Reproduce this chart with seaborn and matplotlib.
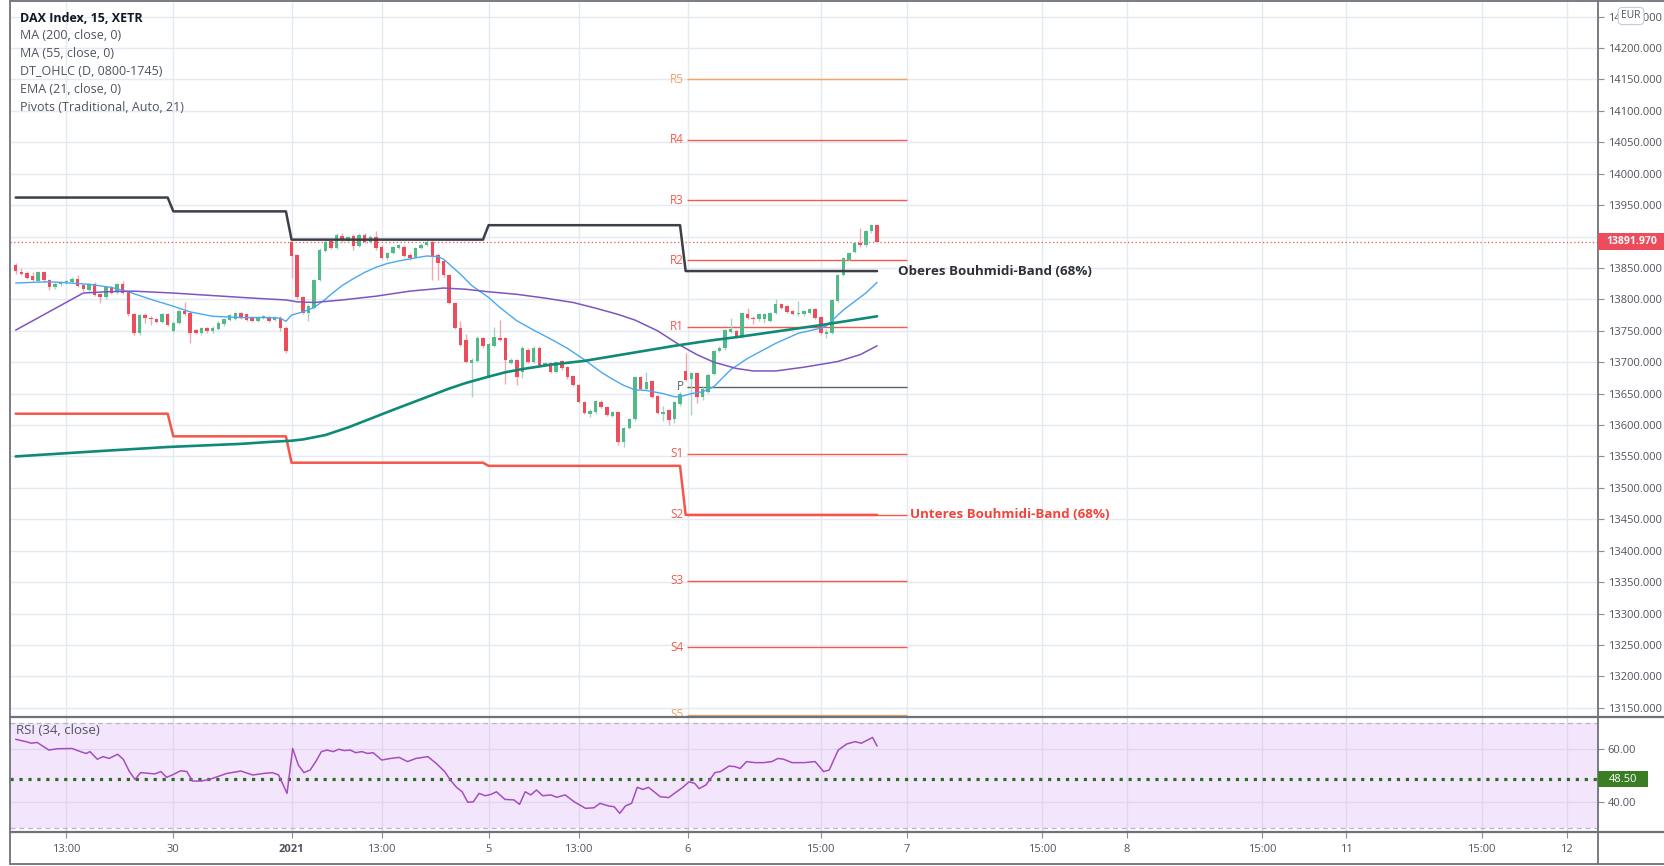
import numpy as np
import pandas as pd
import matplotlib
matplotlib.use("Agg")
import matplotlib.pyplot as plt
import seaborn as sns
from matplotlib.lines import Line2D
from matplotlib.patches import Rectangle

# ---------------- data (15-minute bars, index 0 = first visible bar) ----------------
opens = [13855,13844,13842,13837,13829,13843,13831,13819,13825,13827,
         13828,13833,13823,13815,13824,13808,13803,13819,13811,13824,
         13811,13776,13746,13775,13771,13768,13764,13777,13750,13763,
         13782,13779,13751,13747,13754,13749,13753,13760,13767,13769,
         13778,13776,13771,13766,13770,13771,13767,13771,13755,13892,
         13870,13804,13779,13787,13831,13877,13893,13882,13901,13893,
         13901,13885,13902,13891,13900,13884,13865,13874,13882,13884,
         13871,13868,13882,13887,13892,13871,13861,13838,13794,13755,
         13735,13698,13702,13738,13678,13726,13739,13738,13699,13703,
         13685,13720,13701,13723,13696,13698,13685,13702,13692,13678,
         13664,13637,13617,13620,13637,13628,13614,13621,13573,13595,
         13609,13676,13658,13670,13646,13618,13624,13609,13633,13686,
         13674,13682,13644,13653,13681,13718,13722,13748,13749,13741,
         13777,13771,13768,13768,13766,13778,13792,13789,13781,13776,
         13776,13778,13784,13772,13745,13747,13798,13839,13863,13876,
         13890,13886,13908,13918]
highs = [13858,13850,13845,13843,13845,13845,13833,13827,13829,13831,
         13836,13839,13825,13826,13827,13810,13821,13822,13826,13829,
         13813,13778,13777,13778,13773,13770,13779,13779,13765,13784,
         13795,13781,13753,13756,13756,13757,13765,13771,13776,13780,
         13780,13779,13773,13773,13775,13774,13774,13773,13757,13894,
         13872,13806,13792,13833,13881,13897,13896,13905,13906,13901,
         13904,13905,13905,13902,13908,13886,13876,13885,13888,13887,
         13873,13884,13889,13894,13894,13873,13863,13840,13796,13766,
         13745,13706,13741,13740,13731,13756,13767,13740,13706,13705,
         13725,13722,13725,13725,13701,13700,13702,13704,13694,13680,
         13666,13639,13625,13640,13640,13630,13623,13623,13597,13611,
         13678,13678,13685,13672,13648,13630,13626,13639,13652,13714,
         13684,13684,13660,13682,13720,13725,13753,13770,13751,13780,
         13786,13773,13778,13779,13780,13800,13794,13791,13783,13798,
         13783,13786,13786,13774,13752,13801,13841,13867,13876,13892,
         13914,13910,13920,13920]
lows = [13841,13838,13832,13829,13828,13828,13815,13816,13822,13825,
        13826,13820,13814,13812,13805,13794,13801,13808,13809,13808,
        13774,13744,13744,13762,13759,13762,13762,13757,13748,13761,
        13774,13730,13745,13744,13746,13746,13751,13758,13765,13767,
        13768,13765,13764,13764,13768,13764,13765,13749,13715,13834,
        13801,13777,13765,13785,13829,13875,13880,13880,13892,13891,
        13878,13883,13890,13889,13879,13864,13863,13872,13880,13867,
        13862,13866,13880,13885,13831,13831,13836,13792,13753,13726,
        13698,13645,13700,13723,13675,13724,13734,13666,13697,13663,
        13675,13699,13699,13693,13694,13683,13683,13688,13674,13662,
        13635,13617,13612,13618,13627,13614,13612,13568,13565,13593,
        13607,13656,13656,13643,13617,13606,13600,13603,13631,13670,
        13616,13635,13640,13651,13679,13716,13720,13746,13738,13739,
        13768,13760,13766,13762,13764,13776,13784,13778,13775,13774,
        13774,13776,13768,13744,13738,13745,13796,13837,13861,13874,
        13884,13884,13906,13890]
closes = [13845,13841,13834,13830,13843,13830,13819,13825,13827,13829,
          13833,13822,13816,13824,13807,13803,13819,13810,13824,13810,
          13776,13746,13775,13771,13769,13764,13777,13759,13763,13782,
          13776,13747,13747,13754,13749,13755,13763,13769,13775,13778,
          13770,13767,13766,13771,13773,13766,13772,13754,13717,13869,
          13803,13779,13790,13831,13879,13892,13882,13903,13894,13899,
          13885,13903,13892,13900,13881,13866,13874,13883,13886,13869,
          13865,13882,13887,13892,13869,13858,13838,13794,13755,13728,
          13700,13703,13739,13725,13729,13740,13736,13704,13704,13677,
          13723,13701,13723,13695,13699,13685,13700,13690,13676,13664,
          13637,13619,13623,13638,13629,13616,13621,13573,13595,13609,
          13676,13658,13669,13645,13619,13620,13608,13637,13650,13672,
          13682,13644,13658,13680,13718,13723,13751,13752,13740,13778,
          13770,13768,13776,13777,13778,13793,13786,13780,13777,13778,
          13781,13784,13770,13746,13748,13799,13839,13865,13874,13890,
          13886,13908,13918,13891.97]
last_price = 13891.97

# moving averages (bar index, value)
ma200_bar = [0, 14, 27, 40, 45, 49, 51, 55, 59, 63, 67, 72, 77, 80, 84, 87, 90, 95, 101,
             109, 117, 123, 129, 136, 143, 148, 153]
ma200_val = [13550, 13558, 13565, 13570, 13573, 13575, 13577, 13584, 13596, 13610, 13624,
             13641, 13658, 13667, 13677, 13684, 13689, 13696, 13702, 13714, 13726, 13734,
             13741, 13750, 13759, 13766, 13773]
ma55_bar = [0, 12, 16, 21, 28, 35, 42, 48, 50, 53, 58, 64, 70, 76, 80, 84, 89, 94, 99,
            103, 107, 110, 114, 118, 121, 124, 128, 131, 135, 140, 146, 150, 153]
ma55_val = [13751, 13810, 13812, 13813, 13810, 13806, 13802, 13799, 13796, 13795, 13799,
            13805, 13813, 13818, 13816, 13812, 13808, 13802, 13795, 13786, 13776, 13767,
            13750, 13727, 13712, 13700, 13690, 13686, 13686, 13692, 13701, 13712, 13726]
ema21_bar = [0, 6, 13, 17, 20, 24, 28, 31, 35, 40, 45, 47, 48, 49, 51, 53, 55, 56, 58,
             60, 62, 64, 66, 68, 71, 73, 75, 76, 77, 78, 79, 81, 84, 86, 89, 92, 95, 98,
             101, 104, 106, 108, 110, 112, 115, 117, 118, 120, 122, 124, 127, 130, 135,
             139, 143, 144, 147, 151, 153]
ema21_val = [13826, 13828, 13824, 13819, 13812, 13800, 13789, 13780, 13773, 13771, 13771,
             13770, 13765, 13775, 13780, 13787, 13800, 13808, 13822, 13833, 13843, 13851,
             13857, 13861, 13866, 13869, 13868, 13864, 13856, 13848, 13840, 13822, 13803,
             13787, 13766, 13751, 13737, 13722, 13704, 13684, 13673, 13663, 13656, 13655,
             13650, 13645, 13645, 13650, 13653, 13661, 13688, 13706, 13730, 13746, 13754,
             13758, 13783, 13810, 13827]

# Bouhmidi bands, one value per trading day
day_first = [0, 28, 49, 84, 119]
band_upper = [13962, 13940, 13895, 13918, 13845]
band_lower = [13618, 13582, 13540, 13535, 13457]

# pivots for the last day
pivot_names = ['R5', 'R4', 'R3', 'R2', 'R1', 'P', 'S1', 'S2', 'S3', 'S4', 'S5']
pivot_vals = [14150, 14054, 13958, 13862, 13756, 13661, 13554, 13457, 13352, 13246, 13139]

# RSI (34) samples (bar index, value)
rsi_bar = [0,1.8,2.8,3.8,5.9,7.4,10,11.5,12.5,13.2,
           14.5,15.5,16.6,18.1,19.1,20.2,21.2,22.2,23.7,24.7,
           25.8,26.8,27.8,29.3,30.4,31.4,32.9,34.4,35.9,37.5,
           40.0,42.1,44.1,45.6,46.7,48.2,49.2,50.2,51.2,52.3,
           53.3,54.3,55.3,56.4,57.4,58.4,59.4,60.4,61.5,62.5,
           63.5,65.0,66.6,68.1,69.6,71.1,73.2,74.7,76.2,77.2,
           78.3,79.3,80.3,81.3,82.3,83.4,84.4,85.4,86.9,88.5,
           89.5,90.5,91.5,92.5,93.6,95.1,96.1,97.6,99.2,101.2,
           102.7,103.8,105.3,106.3,107.3,108.3,109.4,110.4,111.4,112.4,
           113.4,114.5,116.0,117.0,118.5,119.6,120.6,121.4,122.6,124.2,
           125.2,126.7,127.7,128.7,129.8,131.3,132.8,134.3,135.4,136.4,
           137.9,140.0,142.0,143.5,144.5,146.1,147.6,149.1,150.2,152.2,
           153.0]
rsi_val = [63.8,62.9,62.3,62.6,59.7,60.2,60.3,59.1,58.4,59.1,
           56.2,57.2,56.5,58.1,56.2,51.5,48.5,51.1,50.8,50.6,
           51.5,49.3,50.2,51.8,51.5,47.9,47.9,48.5,49.6,50.8,
           51.7,50.2,50.8,51.1,50.2,43.2,60.3,54.0,51.1,52.1,
           55.3,59.1,59.7,59.1,60.0,59.5,59.7,58.7,59.1,58.4,
           58.7,55.9,56.5,56.9,55.3,56.5,57.2,54.6,51.5,48.3,
           45.5,43.8,39.8,40.0,43.2,42.3,42.8,43.8,40.9,40.7,
           39.0,43.8,42.6,44.5,42.3,42.6,41.7,42.6,40.0,37.5,
           37.7,39.4,38.4,38.1,35.6,38.4,39.4,45.5,44.7,45.5,
           43.8,41.9,41.6,43.2,45.5,47.6,47.0,45.0,46.4,51.1,
           51.5,53.6,53.4,52.7,55.3,54.9,54.9,55.3,56.5,56.2,
           54.9,54.9,55.3,51.5,52.1,59.7,62.0,62.9,62.3,64.5,
           61.2]
rsi_level = 48.50

# time axis
tick_pos = [9, 28, 49, 65, 84, 100, 119.4, 143, 158.3, 182.3, 197.4, 221.4, 236.3, 260.4, 275.5]
tick_lab = ['13:00', '30', '2021', '13:00', '5', '13:00', '6', '15:00', '7', '15:00', '8',
            '15:00', '11', '15:00', '12']
price_ticks = list(range(13150, 14251, 50))

legend_lines = ['DAX Index, 15, XETR', 'MA (200, close, 0)', 'MA (55, close, 0)',
                'DT_OHLC (D, 0800-1745)', 'EMA (21, close, 0)', 'Pivots (Traditional, Auto, 21)']

# ---------------- styling ----------------
sns.set_theme(style="white")
plt.rcParams['font.family'] = ['Open Sans', 'DejaVu Sans']

W, H = 1664, 866
fig = plt.figure(figsize=(W / 100, H / 100), dpi=100)
fig.patch.set_facecolor('white')

def fx(px):
    return px / W

def fy(py):
    return 1 - py / H

L, R = 10, 1598
T_MAIN, B_MAIN, B_RSI = 2, 716.5, 832
ax = fig.add_axes([fx(L), fy(B_MAIN), fx(R) - fx(L), fy(T_MAIN) - fy(B_MAIN)])
axr = fig.add_axes([fx(L), fy(B_RSI), fx(R) - fx(L), fy(B_MAIN) - fy(B_RSI)])

XLIM = (-1.01, 281.05)
for a in (ax, axr):
    a.set_xlim(*XLIM)
    a.set_facecolor('white')
    for s in a.spines.values():
        s.set_visible(False)
ax.set_ylim(13136.1, 14273.2)
axr.set_ylim(28.48, 72.48)

TXT = '#50535e'
GRID = '#e4eaf1'
FS_AX = 8.0

# grid
for t in tick_pos:
    ax.axvline(t, color=GRID, lw=1, zorder=0.5)
    axr.axvline(t, color='#ddd8ec', lw=1, zorder=0.5)
for p in price_ticks:
    ax.axhline(p, color=GRID, lw=1, zorder=0.5)

# candles
df = pd.DataFrame({'bar': np.arange(len(opens)), 'open': opens, 'high': highs,
                   'low': lows, 'close': closes})
up = (df['close'] >= df['open']).values
body_lo = np.minimum(df['open'], df['close'])
body_h = np.maximum(np.abs(df['close'] - df['open']), 1.3)
ax.vlines(df['bar'], df['low'], df['high'],
          colors=np.where(up, '#a9d3c4', '#f3a7ae'), lw=1, zorder=3)
ax.bar(df['bar'], body_h, bottom=body_lo, width=0.62,
       color=np.where(up, '#53b987', '#eb4d5c'), lw=0, zorder=3.2)

# bands
seg_len = np.diff(day_first + [len(opens)])
bands = pd.DataFrame({'bar': np.arange(len(opens)),
                      'upper': np.repeat(band_upper, seg_len),
                      'lower': np.repeat(band_lower, seg_len)})
sns.lineplot(data=bands, x='bar', y='upper', ax=ax, color='#3c3f48', linewidth=1.8,
             zorder=4, errorbar=None, legend=False)
sns.lineplot(data=bands, x='bar', y='lower', ax=ax, color='#f4564b', linewidth=1.8,
             zorder=4, errorbar=None, legend=False)

# moving averages
sns.lineplot(x=ma200_bar, y=ma200_val, ax=ax, color='#0f8a77', linewidth=1.9,
             zorder=4.5, errorbar=None, legend=False)
sns.lineplot(x=ma55_bar, y=ma55_val, ax=ax, color='#7d55c0', linewidth=1.1,
             zorder=4.4, errorbar=None, legend=False)
sns.lineplot(x=ema21_bar, y=ema21_val, ax=ax, color='#4aa8f2', linewidth=1.0,
             zorder=4.3, errorbar=None, legend=False)

# pivots
PIV_X0, PIV_X1 = 119.3, 158.3
for n, v in zip(pivot_names, pivot_vals):
    if n in ('R5', 'S5'):
        c = '#f3a263'
    elif n == 'P':
        c = '#5f6167'
    else:
        c = '#f5594c'
    ax.hlines(v, PIV_X0, PIV_X1, colors=c, lw=1, zorder=2)
    ax.text(PIV_X0 - 0.6, v, n, ha='right', va='center', fontsize=8.5, color=c,
            zorder=2, clip_on=True)

# last-price dotted line
ax.axhline(last_price, color='#ef5350', lw=0.9, ls=(0, (1, 2)), zorder=2.5)

# band annotations
ax.text(156.7, band_upper[-1], 'Oberes Bouhmidi-Band (68%)', ha='left', va='center',
        fontsize=9.6, fontweight='bold', color='#2e3038', zorder=6)
ax.text(158.8, band_lower[-1], 'Unteres Bouhmidi-Band (68%)', ha='left', va='center',
        fontsize=9.6, fontweight='bold', color='#f4433a', zorder=6)

# price axis
ax.yaxis.tick_right()
ax.set_yticks(price_ticks)
ax.set_yticklabels([f'{p:.3f}' for p in price_ticks])
ax.tick_params(axis='y', which='both', right=True, left=False, length=4, width=0.8,
               color='#8a8d96', labelsize=FS_AX, labelcolor=TXT, pad=3)
ax.tick_params(axis='x', bottom=False, labelbottom=False)
ax.set_xlabel('')
ax.set_ylabel('')

# ---------------- RSI panel ----------------
axr.axhspan(30, 70, color='#f3e6fc', zorder=0.2, lw=0)
for v in (40, 60):
    axr.axhline(v, color='#ddd8ec', lw=1, zorder=0.5)
for v in (30, 70):
    axr.axhline(v, color='#bdb3c8', lw=0.9, ls=(0, (4, 3)), zorder=1)
axr.axhline(rsi_level, color='#2f6b22', lw=2.3, ls=(0, (1, 1.8)), zorder=2,
            dash_capstyle='butt')
sns.lineplot(x=rsi_bar, y=rsi_val, ax=axr, color='#a64dbf', linewidth=1.1, zorder=3,
             errorbar=None, legend=False)
axr.text(0.004, 67.0, 'RSI (34, close)', transform=axr.get_yaxis_transform(),
         ha='left', va='center', fontsize=9.5, color=TXT)
axr.set_xlabel('')
axr.set_ylabel('')

axr.yaxis.tick_right()
axr.set_yticks([40, 60])
axr.set_yticklabels(['40.00', '60.00'])
axr.tick_params(axis='y', right=True, left=False, length=4, width=0.8, color='#8a8d96',
                labelsize=FS_AX, labelcolor=TXT, pad=3)
axr.set_xticks(tick_pos)
axr.set_xticklabels(tick_lab)
axr.tick_params(axis='x', bottom=True, length=4, width=0.8, color='#8a8d96',
                labelsize=FS_AX, labelcolor=TXT, pad=4.3)
for lab in axr.get_xticklabels():
    if lab.get_text() == '2021':
        lab.set_fontweight('bold')

# ---------------- frame / separators ----------------
SEP = '#6f727b'
def hline(y, x0, x1, lw=1.3):
    fig.add_artist(Line2D([fx(x0), fx(x1)], [fy(y), fy(y)], color=SEP, lw=lw,
                          transform=fig.transFigure, zorder=20))
def vline(x, y0, y1, lw=1.3):
    fig.add_artist(Line2D([fx(x), fx(x)], [fy(y0), fy(y1)], color=SEP, lw=lw,
                          transform=fig.transFigure, zorder=20))
hline(1, L, W)
hline(B_MAIN, L, W, lw=1.6)
hline(B_RSI, L, W, lw=1.6)
hline(864, L, W)
vline(L, 1, 864)
vline(R, 1, 864)

# current price label
fig.canvas.draw()
py_last = H - ax.transData.transform((0, last_price))[1]
fig.add_artist(Rectangle((fx(R), fy(py_last + 8.5)), fx(W) - fx(R), 17 / H,
                         transform=fig.transFigure, color='#ec4c5c', lw=0, zorder=21))
fig.text(fx(1606), fy(py_last), f'{last_price:.3f}', ha='left', va='center',
         fontsize=7.5, fontweight='bold', color='white', zorder=22)

py_rsi = H - axr.transData.transform((0, rsi_level))[1]
fig.add_artist(Rectangle((fx(R), fy(py_rsi + 8)), fx(1648) - fx(R), 16 / H,
                         transform=fig.transFigure, color='#3a7d22', lw=0, zorder=21))
fig.text(fx(1609), fy(py_rsi), f'{rsi_level:.2f}', ha='left', va='center',
         fontsize=FS_AX, color='white', zorder=22)

# EUR badge
fig.text(fx(1631), fy(16), 'EUR', ha='center', va='center', fontsize=7.4, color=TXT,
         zorder=22, bbox=dict(boxstyle='round,pad=0.3,rounding_size=0.4', fc='white',
                              ec='#c9ccd3', lw=0.8))

# legend text
for k, t in enumerate(legend_lines):
    fig.text(fx(20), fy(18 + 17.9 * k), t, ha='left', va='center', fontsize=9,
             color='#131722' if k == 0 else '#50535e',
             fontweight='bold' if k == 0 else 'normal', zorder=22)

fig.savefig('out.png', dpi=100, facecolor='white')
